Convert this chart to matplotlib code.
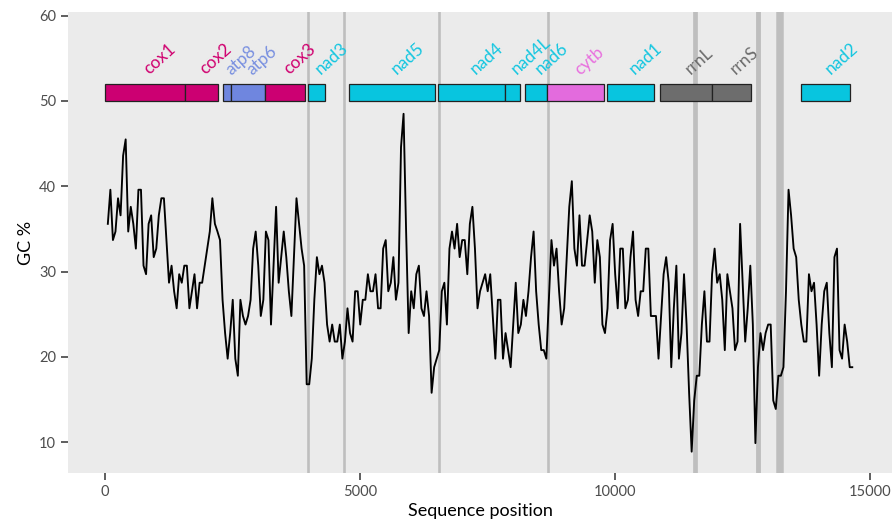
import numpy as np
import matplotlib
matplotlib.use("Agg")
import matplotlib.pyplot as plt
from matplotlib.patches import Rectangle

plt.rcParams['font.family'] = ['Lato', 'DejaVu Sans']

# ---- GC content in sliding windows (window step 50 bp, first window centred at 51) ----
window_start = 51
window_step = 50
gc_percent = [
    35.6, 39.6, 33.7, 34.7, 38.6, 36.6, 43.6, 45.5, 34.7, 37.6,
    35.6, 32.7, 39.6, 39.6, 30.7, 29.7, 35.6, 36.6, 31.7, 32.7,
    36.6, 38.6, 38.6, 33.7, 28.7, 30.7, 27.7, 25.7, 29.7, 28.7,
    30.7, 30.7, 25.7, 27.7, 29.7, 25.7, 28.7, 28.7, 30.7, 32.7,
    34.7, 38.6, 35.6, 34.7, 33.7, 26.7, 22.8, 19.8, 22.8, 26.7,
    19.8, 17.8, 26.7, 24.8, 23.8, 24.8, 26.7, 32.7, 34.7, 30.7,
    24.8, 26.7, 34.7, 33.7, 23.8, 30.7, 37.6, 28.7, 31.7, 34.7,
    31.7, 27.7, 24.8, 31.7, 38.6, 35.6, 32.7, 30.7, 16.8, 16.8,
    19.8, 26.7, 31.7, 29.7, 30.7, 28.7, 23.8, 21.8, 23.8, 21.8,
    21.8, 23.8, 19.8, 21.8, 25.7, 22.8, 21.8, 27.7, 27.7, 23.8,
    26.7, 26.7, 29.7, 27.7, 27.7, 29.7, 25.7, 25.7, 32.7, 33.7,
    27.7, 28.7, 31.7, 26.7, 28.7, 44.6, 48.5, 34.7, 22.8, 27.7,
    25.7, 29.7, 30.7, 25.7, 24.8, 27.7, 24.8, 15.8, 18.8, 19.8,
    20.8, 27.7, 28.7, 23.8, 32.7, 34.7, 32.7, 35.6, 31.7, 33.7,
    33.7, 29.7, 35.6, 37.6, 32.7, 25.7, 27.7, 28.7, 29.7, 27.7,
    29.7, 24.8, 19.8, 26.7, 26.7, 19.8, 22.8, 20.8, 18.8, 23.8,
    28.7, 22.8, 23.8, 26.7, 24.8, 27.7, 31.7, 34.7, 27.7, 23.8,
    20.8, 20.8, 19.8, 26.7, 33.7, 30.7, 32.7, 27.7, 23.8, 25.7,
    31.7, 37.6, 40.6, 32.7, 30.7, 36.6, 30.7, 30.7, 33.7, 36.6,
    34.7, 28.7, 33.7, 31.7, 23.8, 22.8, 25.7, 33.7, 35.6, 29.7,
    25.7, 32.7, 32.7, 25.7, 26.7, 31.7, 34.7, 26.7, 24.8, 27.7,
    27.7, 32.7, 32.7, 24.8, 24.8, 24.8, 19.8, 24.8, 29.7, 31.7,
    28.7, 18.8, 25.7, 30.7, 19.8, 22.8, 29.7, 23.8, 15.8, 8.9,
    14.9, 17.8, 17.8, 23.8, 27.7, 21.8, 21.8, 29.7, 32.7, 28.7,
    29.7, 26.7, 20.8, 29.7, 27.7, 25.7, 20.8, 21.8, 35.6, 28.7,
    21.8, 25.7, 30.7, 23.8, 9.9, 18.8, 22.8, 20.8, 22.8, 23.8,
    23.8, 14.9, 13.9, 17.8, 17.8, 18.8, 27.7, 39.6, 36.6, 32.7,
    31.7, 26.7, 23.8, 21.8, 21.8, 29.7, 27.7, 28.7, 23.8, 17.8,
    23.8, 27.7, 28.7, 22.8, 18.8, 31.7, 32.7, 20.8, 19.8, 23.8,
    21.8, 18.8, 18.8,
]

# ---- gene annotation ----
gene_names = ["cox1", "cox2", "atp8", "atp6", "cox3", "nad3", "nad5", "nad4",
              "nad4L", "nad6", "cytb", "nad1", "rrnL", "rrnS", "nad2"]
gene_start = [1, 1555, 2314, 2465, 3131, 3967, 4784, 6524,
              7843, 8241, 8673, 9843, 10888, 11908, 13653]
gene_end = [1555, 2204, 2465, 3131, 3916, 4314, 6471, 7843,
            8131, 8673, 9779, 10758, 11908, 12661, 14608]
gene_type = ["cox", "cox", "atp", "atp", "cox", "nad", "nad", "nad",
             "nad", "nad", "cytb", "nad", "rrn", "rrn", "nad"]
type_colors = {"cox": "#CC0072", "atp": "#6F86DF", "nad": "#08C5DF",
               "cytb": "#E36BDD", "rrn": "#6D6D6D"}
label_colors = {"cox": "#D0006F", "atp": "#7990E0", "nad": "#14C6E0",
                "cytb": "#E870DE", "rrn": "#6B6B6B"}

# ---- gap / marker positions (vertical lines) and their widths ----
marker_pos = [3975, 4680, 6545, 8680, 11560, 12800, 13225]
marker_width = [1.9, 1.9, 1.9, 1.9, 3.4, 3.5, 5.4]

x_ticks = [0, 5000, 10000, 15000]
y_ticks = [10, 20, 30, 40, 50, 60]

fig = plt.figure(figsize=(8.92, 5.26), dpi=100)
ax = fig.add_axes([68 / 892, 53 / 526, 1 - 68 / 892, (473 - 12) / 526])
ax.set_facecolor("#EBEBEB")
for s in ax.spines.values():
    s.set_visible(False)

for p, w in zip(marker_pos, marker_width):
    ax.axvline(p, color="#BEBEBE", linewidth=w, zorder=1)

x = window_start + window_step * np.arange(len(gc_percent))
ax.plot(x, gc_percent, color="black", linewidth=1.35, zorder=3)

for name, s, e, t in zip(gene_names, gene_start, gene_end, gene_type):
    ax.add_patch(Rectangle((s, 50), e - s, 2, facecolor=type_colors[t],
                           edgecolor="#222222", linewidth=0.9, zorder=4))
    ax.text((s + e) / 2 + 90, 53.0, name, rotation=42, rotation_mode="anchor",
            ha="left", va="baseline", color=label_colors[t], fontsize=12.5,
            zorder=5)

ax.set_xlim(-730, 15430)
ax.set_ylim(6.4, 60.43)
ax.set_xticks(x_ticks)
ax.set_xticklabels([str(v) for v in x_ticks])
ax.set_yticks(y_ticks)
ax.tick_params(axis="both", length=5, width=1.1, color="#333333",
               labelcolor="#4D4D4D", labelsize=10.5)
ax.set_xlabel("Sequence position", fontsize=13, labelpad=3)
ax.set_ylabel("GC %", fontsize=13, labelpad=4)

fig.savefig("out.png", dpi=100)
